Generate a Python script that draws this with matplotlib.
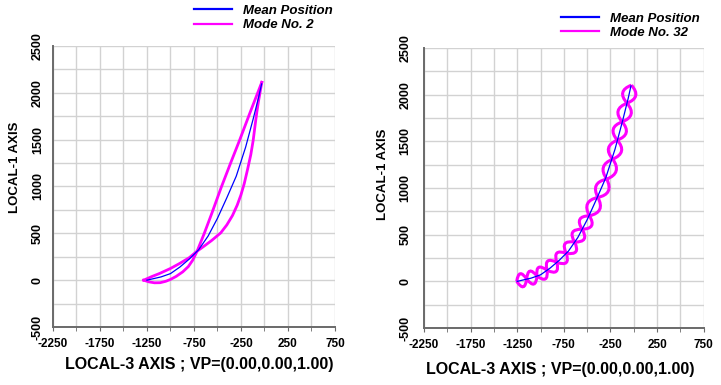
import numpy as np
import matplotlib.pyplot as plt
from matplotlib.path import Path
from matplotlib.patches import PathPatch
from matplotlib.lines import Line2D
from matplotlib.ticker import MultipleLocator

plt.rcParams['font.family'] = ['Liberation Sans', 'DejaVu Sans']
plt.rcParams['axes.unicode_minus'] = False

# posicion media (igual en las dos vistas)
mean_x = [-1250, -1100, -1000, -900, -800, -700, -600, -500, -400, -300, -200, -120, -60, -30]
mean_y = [0, 35, 70, 140, 225, 325, 470, 660, 880, 1110, 1420, 1720, 1960, 2095]

# modo 2: dos curvas que se cruzan en un nodo
m2_a_x = [-1285, -1230, -1170, -1110, -1050, -1000, -940, -869, -810, -763, -716,
          -640, -565, -460, -360, -262, -145, -28]
m2_a_y = [0, -18, -28, -27, -12, 8, 40, 89, 145, 214, 310,
          500, 700, 990, 1250, 1500, 1810, 2112]
m2_b_x = [-1285, -1200, -1115, -1000, -903, -800, -716, -640, -560, -465, -400, -340,
          -290, -250, -215, -180, -145, -120, -99, -80, -64, -28]
m2_b_y = [0, 38, 72, 125, 178, 240, 310, 365, 425, 505, 590, 690,
          800, 910, 1030, 1180, 1340, 1490, 1656, 1800, 1905, 2112]

# modo 32: nodos y puntos de maxima separacion de cada lobulo
m32_node_x = [-1255, -1148, -1038, -930, -825, -724, -634, -554, -476, -385, -290, -225, -177, -124, -72, -25]
m32_node_y = [0, 24, 57, 119, 204, 301, 421, 559, 703, 900, 1096, 1310, 1514, 1710, 1910, 2103]
m32_left_x = [-1217, -1114, -1020, -923, -824, -737, -656, -578, -496, -402, -326, -271, -220, -168, -118]
m32_left_y = [82, 110, 150, 218, 304, 404, 526, 665, 832, 1029, 1224, 1428, 1631, 1828, 2024]
m32_right_x = [-1186, -1072, -948, -832, -724, -621, -532, -452, -365, -273, -189, -131, -81, -28, 21]
m32_right_y = [-58, -29, 26, 106, 201, 318, 454, 597, 771, 967, 1182, 1396, 1593, 1792, 1990]

xtick_vals = [-2250, -1750, -1250, -750, -250, 250, 750]
mode_labels = ['Mode No. 2', 'Mode No. 32']

BLUE = '#0000ff'
MAG = '#ff00ff'


def lobe_path(first, second):
    # curva suave que pasa por los nodos, alternando el lado del lobulo
    nx = np.array(m32_node_x, float)
    ny = np.array(m32_node_y, float)
    verts = [(nx[0], ny[0])]
    codes = [Path.MOVETO]
    for i in range(len(nx) - 1):
        src = first if i % 2 == 0 else second
        px, py = src[0][i], src[1][i]
        mx, my = (nx[i] + nx[i + 1]) / 2, (ny[i] + ny[i + 1]) / 2
        verts += [(2 * px - mx, 2 * py - my), (nx[i + 1], ny[i + 1])]
        codes += [Path.CURVE3, Path.CURVE3]
    return Path(verts, codes)


def setup(ax, ypad):
    ax.set_xlim(-2250, 750)
    ax.set_ylim(-500, 2500)
    ax.set_xticks(xtick_vals)
    ax.xaxis.set_minor_locator(MultipleLocator(250))
    ax.yaxis.set_major_locator(MultipleLocator(500))
    ax.yaxis.set_minor_locator(MultipleLocator(250))
    ax.grid(which='both', color='#d2d2d2', lw=1.0)
    ax.set_axisbelow(True)
    for s in ['top', 'right']:
        ax.spines[s].set_visible(False)
    for s in ['left', 'bottom']:
        ax.spines[s].set_color('#6a6a6a')
        ax.spines[s].set_linewidth(1.4)
    ax.tick_params(axis='x', which='both', length=3, color='#6a6a6a', labelsize=8.5, pad=5)
    ax.tick_params(axis='y', which='both', length=0, labelsize=9, pad=ypad)
    for lbl in ax.get_xticklabels():
        lbl.set_fontweight('bold')
    for lbl in ax.get_yticklabels():
        lbl.set_fontweight('bold')
        lbl.set_rotation(90)
        lbl.set_va('center')
    ax.set_xlabel('LOCAL-3 AXIS ; VP=(0.00,0.00,1.00)', fontsize=11.5, fontweight='bold')
    ax.set_ylabel('LOCAL-1 AXIS', fontsize=9.5, fontweight='bold', va='center')


fig = plt.figure(figsize=(7.21, 3.85), dpi=100)
ax1 = fig.add_axes([0.0735, 0.1506, 0.391, 0.730])
ax2 = fig.add_axes([0.588, 0.148, 0.388, 0.727])

# panel izquierdo: modo 2
setup(ax1, 6.5)
ax1.plot(m2_a_x, m2_a_y, color=MAG, lw=2.0, zorder=3)
ax1.plot(m2_b_x, m2_b_y, color=MAG, lw=2.0, zorder=3)
ax1.plot(mean_x, mean_y, color=BLUE, lw=0.9, zorder=4)
ax1.xaxis.set_label_coords(0.52, -0.105)
ax1.yaxis.set_label_coords(-0.135, 0.57)

# panel derecho: modo 32
setup(ax2, 9)
ax2.add_patch(PathPatch(lobe_path((m32_left_x, m32_left_y), (m32_right_x, m32_right_y)),
                        fill=False, edgecolor=MAG, lw=2.2, zorder=3))
ax2.add_patch(PathPatch(lobe_path((m32_right_x, m32_right_y), (m32_left_x, m32_left_y)),
                        fill=False, edgecolor=MAG, lw=2.2, zorder=3))
ax2.plot(mean_x, mean_y, color=BLUE, lw=0.9, zorder=4)
ax2.xaxis.set_label_coords(0.489, -0.121)
ax2.yaxis.set_label_coords(-0.146, 0.55)

leg_font = {'weight': 'bold', 'style': 'italic', 'size': 9.5}
for anchor, mlab in zip([(194 / 721, 1 - 18 / 385), (561 / 721, 1 - 25.5 / 385)], mode_labels):
    handles = [Line2D([], [], color=BLUE, lw=1.6), Line2D([], [], color=MAG, lw=1.6)]
    fig.legend(handles, ['Mean Position', mlab], loc='center left', bbox_to_anchor=anchor,
               frameon=False, prop=leg_font, handlelength=2.9, handletextpad=0.78,
               labelspacing=0.15, borderpad=0, borderaxespad=0)

fig.savefig('out.png', dpi=100)
